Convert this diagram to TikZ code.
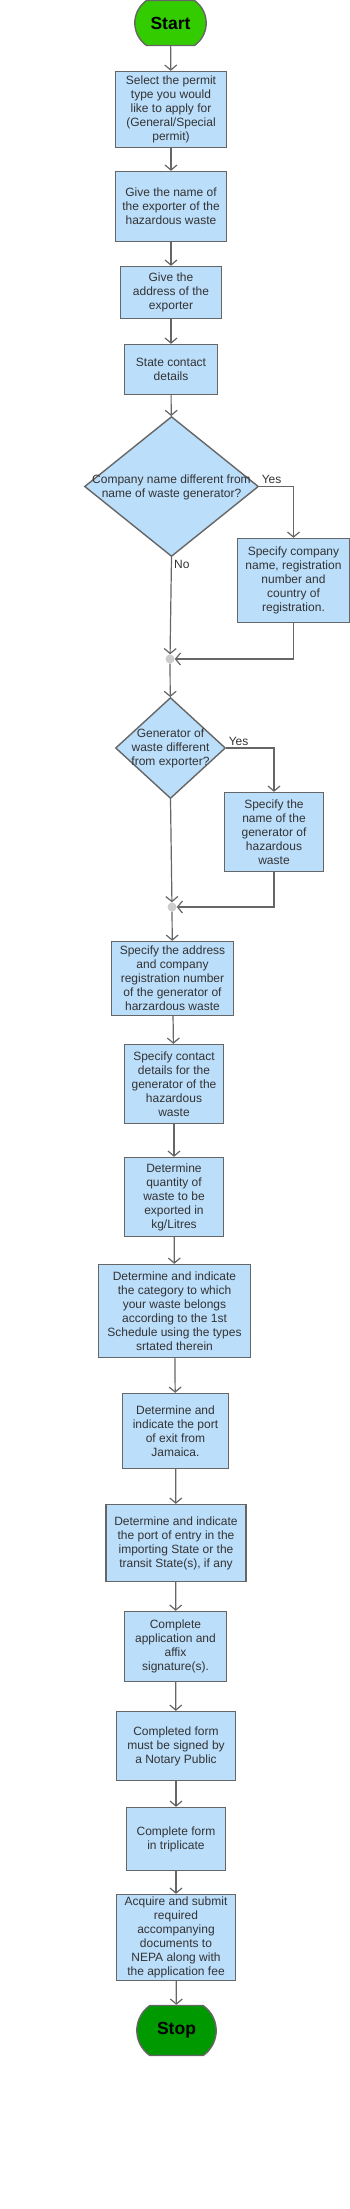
\documentclass[tikz,border=0pt]{standalone}
\usepackage{fontspec}
\setmainfont{Liberation Sans}
\usetikzlibrary{positioning, shapes.geometric, shapes.misc, arrows.meta}
\definecolor{boxblue}{HTML}{BBDEFB}
\definecolor{edgegray}{HTML}{666666}
\definecolor{textgray}{HTML}{333333}
\definecolor{startgreen}{HTML}{33CC00}
\definecolor{stopgreen}{HTML}{009900}
\definecolor{dotgray}{HTML}{CCCCCC}
% text of a decision that may stick out of its diamond
\newcommand{\asktext}[1]{\smash{\makebox[0pt]{\raisebox{-4pt}{\begin{tabular}{@{}c@{}}#1\end{tabular}}}}}

\begin{document}
\begin{tikzpicture}[x=1pt, y=-1pt,
    stepbox/.style={rectangle, draw=edgegray, line width=1.4pt, fill=boxblue, text=textgray, align=center, inner sep=0pt, font=\fontsize{12}{14}\selectfont},
    decision/.style={diamond, draw=edgegray, line width=1.4pt, fill=boxblue, text=textgray, inner sep=0pt, font=\fontsize{12}{14}\selectfont},
    terminal/.style={rounded rectangle, rounded rectangle arc length=110, draw=edgegray, line width=1.4pt, font=\fontsize{17.5}{20}\selectfont\bfseries},
    junction/.style={circle, fill=dotgray, inner sep=0pt, minimum size=9pt},
    arrow/.style={-{Straight Barb[length=5pt,width=12pt]}, edgegray, line width=1.2pt},
    answer/.style={text=textgray, font=\fontsize{12}{14}\selectfont, inner sep=2pt}
]
    \useasboundingbox (0,0) rectangle (350,2209);

    % Start
    \node[terminal, fill=startgreen, minimum width=78pt, minimum height=45pt] (start) at (170.5,23) {Start};

    % Exporter
    \node[stepbox, minimum width=111pt, minimum height=76pt] (permit) at (171,109.5)
        {Select the permit\\type you would\\like to apply for\\(General/Special\\permit)};
    \node[stepbox, minimum width=111pt, minimum height=70pt] (exportername) at (171,206.5)
        {Give the name of\\the exporter of the\\hazardous waste};
    \node[stepbox, minimum width=101pt, minimum height=52pt] (exporteraddress) at (171,292.5)
        {Give the\\address of the\\exporter};
    \node[stepbox, minimum width=93pt, minimum height=50pt] (contact) at (171,369.5)
        {State contact\\details};

    % First question
    \node[decision, minimum width=174pt, minimum height=140pt] (namediff) at (171.5,486.5)
        {\asktext{Company name different from\\name of waste generator?}};
    \node[stepbox, minimum width=112pt, minimum height=84pt] (company) at (293.5,580.5)
        {Specify company\\name, registration\\number and\\country of\\registration.};
    \node[junction] (join1) at (170,659) {};

    % Second question
    \node[decision, minimum width=110pt, minimum height=101pt] (gendiff) at (170.5,748)
        {\asktext{Generator of\\waste different\\from exporter?}};
    \node[stepbox, minimum width=99pt, minimum height=79pt] (generator) at (274,832)
        {Specify the\\name of the\\generator of\\hazardous\\waste};
    \node[junction] (join2) at (172,907) {};

    % Generator and waste
    \node[stepbox, minimum width=122pt, minimum height=74pt] (genaddress) at (172.5,978.5)
        {Specify the address\\and company\\registration number\\of the generator of\\harzardous waste};
    \node[stepbox, minimum width=99pt, minimum height=79pt] (gencontact) at (174,1084)
        {Specify contact\\details for the\\generator of the\\hazardous\\waste};
    \node[stepbox, minimum width=99pt, minimum height=79pt] (quantity) at (174,1197)
        {Determine\\quantity of\\waste to be\\exported in\\kg/Litres};
    \node[stepbox, minimum width=152pt, minimum height=93pt] (category) at (174.5,1311)
        {Determine and indicate\\the category to which\\your waste belongs\\according to the 1st\\Schedule using the types\\srtated therein};

    % Ports
    \node[stepbox, minimum width=106pt, minimum height=75pt] (exitport) at (175.5,1431)
        {Determine and\\indicate the port\\of exit from\\Jamaica.};
    \node[stepbox, minimum width=140pt, minimum height=77pt] (entryport) at (176,1543)
        {Determine and indicate\\the port of entry in the\\importing State or the\\transit State(s), if any};

    % Forms
    \node[stepbox, minimum width=102pt, minimum height=70pt] (sign) at (175.5,1646.5)
        {Complete\\application and\\affix\\signature(s).};
    \node[stepbox, minimum width=119pt, minimum height=69pt] (notary) at (176,1746)
        {Completed form\\must be signed by\\a Notary Public};
    \node[stepbox, minimum width=99pt, minimum height=63pt] (triplicate) at (176,1839)
        {Complete form\\in triplicate};
    \node[stepbox, minimum width=119pt, minimum height=86pt] (submit) at (176,1937.5)
        {Acquire and submit\\required\\accompanying\\documents to\\NEPA along with\\the application fee};

    % Stop
    \node[terminal, fill=stopgreen, minimum width=86pt, minimum height=50pt] (stop) at (176.5,2030.5) {Stop};

    % Arrows
    \draw[arrow] (start) -- (permit);
    \draw[arrow] (permit) -- (exportername);
    \draw[arrow] (exportername) -- (exporteraddress);
    \draw[arrow] (exporteraddress) -- (contact);
    \draw[arrow] (contact) -- (namediff);
    \draw[arrow] (namediff.east) -| node[answer, pos=0, above right] {Yes} (company.north);
    \draw[arrow] (namediff.south) -- node[answer, pos=0, below right] {No} (join1);
    \draw[arrow] (company.south) |- (join1);
    \draw[arrow] (join1) -- (gendiff);
    \draw[arrow] (gendiff.east) -| node[answer, pos=0, above right] {Yes} (generator.north);
    \draw[arrow] (gendiff.south) -- (join2);
    \draw[arrow] (generator.south) |- (join2);
    \draw[arrow] (join2) -- (genaddress);
    \draw[arrow] (genaddress) -- (gencontact);
    \draw[arrow] (gencontact) -- (quantity);
    \draw[arrow] (quantity) -- (category);
    \draw[arrow] (category) -- (exitport);
    \draw[arrow] (exitport) -- (entryport);
    \draw[arrow] (entryport) -- (sign);
    \draw[arrow] (sign) -- (notary);
    \draw[arrow] (notary) -- (triplicate);
    \draw[arrow] (triplicate) -- (submit);
    \draw[arrow] (submit) -- (stop);
\end{tikzpicture}
\end{document}
